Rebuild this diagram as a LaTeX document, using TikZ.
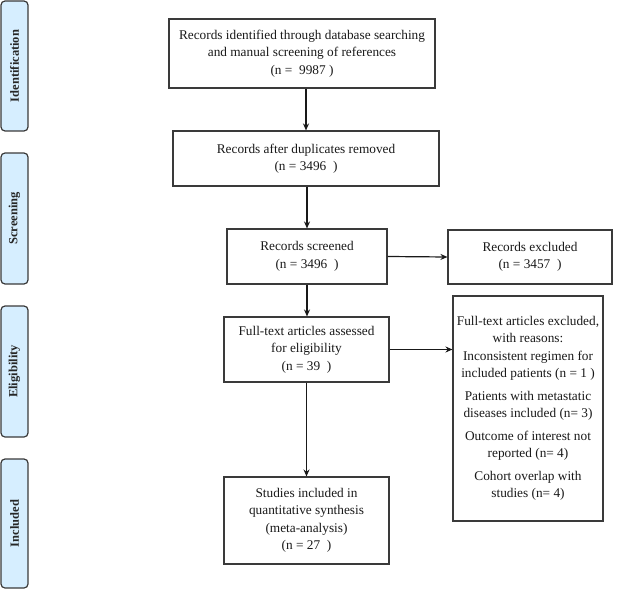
\documentclass[tikz,border=0pt]{standalone}
\usepackage{fontspec}
\setmainfont{Liberation Serif}
\usetikzlibrary{arrows.meta}
\definecolor{phase}{HTML}{D6EEFF}
\definecolor{edge}{HTML}{3A3A3A}
\begin{document}
\begin{tikzpicture}[x=1pt,y=-1pt,
  box/.style={draw=edge,line width=1.1pt,fill=white,align=center,inner sep=2pt,
    font=\fontsize{13.3}{17.5}\selectfont,text=black!90},
  phasebox/.style={draw=edge,line width=1.2pt,fill=phase,rounded corners=4pt,rotate=90,
    minimum height=27pt,inner sep=0pt,font=\fontsize{12.5}{14}\selectfont\bfseries,text=black!85},
  arr/.style={line width=1.2pt,draw=black!90,-{Stealth[length=7pt,width=6pt]}}]
\useasboundingbox (0,0) rectangle (618,591);
% phase labels
\node[phasebox,minimum width=130pt] (pid) at (14.5,66) {Identification};
\node[phasebox,minimum width=131pt] (psc) at (14.5,218.5) {Screening};
\node[phasebox,minimum width=131pt] (pel) at (14.5,371.5) {Eligibility};
\node[phasebox,minimum width=129pt] (pin) at (14.5,523.5) {Included};
% boxes
\node[box,minimum width=266pt,minimum height=69pt] (b1) at (302,53.5)
  {Records identified through database searching\\and manual screening of references\\(n =\ \ 9987 )};
\node[box,minimum width=266pt,minimum height=55pt] (b2) at (306,158.5)
  {Records after duplicates removed\\(n = 3496\ \ )};
\node[box,minimum width=160pt,minimum height=55pt] (b3) at (307,256.5)
  {Records screened\\(n = 3496\ \ )};
\node[box,minimum width=164pt,minimum height=54pt] (ex) at (530,257)
  {Records excluded\\(n = 3457\ \ )};
\node[box,minimum width=165pt,minimum height=65pt] (b4) at (306.5,349.5)
  {Full-text articles assessed\\for eligibility\\(n = 39\ \ )};
\node[box,minimum width=150pt,minimum height=225pt] (fx) at (528,408.5)
  {Full-text articles excluded,\\with reasons:\\Inconsistent regimen for\\included patients (n = 1 )\\[5pt]
   Patients with metastatic\\diseases included (n= 3)\\[5pt]
   Outcome of interest not\\reported (n= 4)\\[5pt]
   Cohort overlap with\\studies (n= 4)};
\node[box,minimum width=165pt,minimum height=87pt] (b5) at (306.5,520.5)
  {Studies included in\\quantitative synthesis\\(meta-analysis)\\(n = 27\ \ )};
% connectors
\draw[arr] (b1.south -| b2.north) -- (b2.north);
\draw[arr] (b2.south -| b3.north) -- (b3.north);
\draw[arr] (b3.east) -- (ex.west);
\draw[arr] (b3.south) -- (b3.south |- b4.north);
\draw[arr] (b4.east) -- (b4.east -| fx.west);
\draw[arr] (b4.south) -- (b5.north);
\end{tikzpicture}
\end{document}
